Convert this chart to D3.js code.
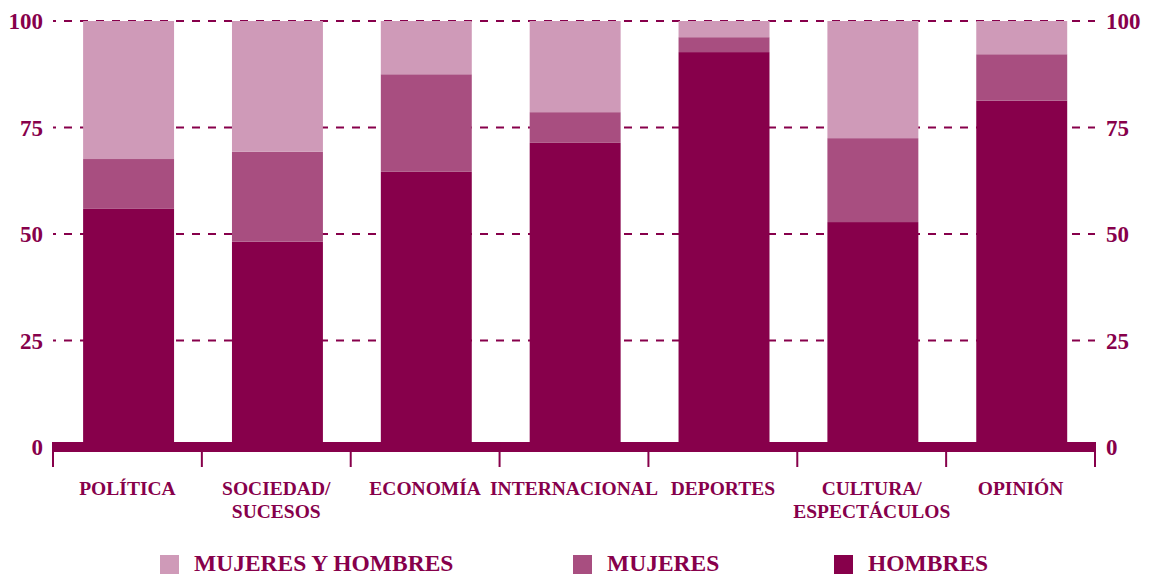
<!DOCTYPE html>
<html><head><meta charset="utf-8">
<script src="https://cdn.jsdelivr.net/npm/d3@7"></script>
<style>
html,body{margin:0;padding:0;background:#fff;}
svg{display:block;font-family:"Liberation Serif","Times New Roman",serif;font-weight:bold;}
</style></head>
<body><svg id="c" width="1149" height="575"></svg>
<script>
const categories = [["POLÍTICA"],["SOCIEDAD/","SUCESOS"],["ECONOMÍA"],["INTERNACIONAL"],["DEPORTES"],["CULTURA/","ESPECTÁCULOS"],["OPINIÓN"]];
const hombres = [55.9, 48.2, 64.6, 71.4, 92.7, 52.8, 81.3];
const mujeres = [11.7, 21.1, 22.9, 7.2, 3.5, 19.7, 10.9];
const mujeresYHombres = [32.4, 30.7, 12.5, 21.4, 3.8, 27.5, 7.8];
const yTicks = [0, 25, 50, 75, 100];
const seriesNames = ["HOMBRES", "MUJERES", "MUJERES Y HOMBRES"];
const colors = ["#87004b", "#a84e80", "#cf9ab8"];
const textColor = "#87004b";

const svg = d3.select("#c");
const left = 53, right = 1095;
const x = d3.scaleBand().domain(d3.range(categories.length)).range([left, right])
  .paddingInner(0.389).paddingOuter(0.1945).align(0.52);
const y = d3.scaleLinear().domain([0, 100]).range([447, 21]);

// gridlines
svg.append("g").selectAll("line").data(yTicks.filter(d => d > 0)).join("line")
  .attr("x1", left).attr("x2", right)
  .attr("y1", d => y(d)).attr("y2", d => y(d))
  .attr("stroke", textColor).attr("stroke-width", 2)
  .attr("stroke-dasharray", "8,8").attr("stroke-dashoffset", 5);

// stacked bars
const rows = categories.map((c, i) => ({i, h: hombres[i], m: mujeres[i], mh: mujeresYHombres[i]}));
const stack = d3.stack().keys(["h", "m", "mh"])(rows);
svg.append("g").selectAll("g").data(stack).join("g")
  .attr("fill", (d, k) => colors[k])
  .selectAll("rect").data(d => d).join("rect")
  .attr("x", d => x(d.data.i)).attr("width", x.bandwidth())
  .attr("y", d => y(Math.min(d[1], 100))).attr("height", d => y(d[0]) - y(Math.min(d[1], 100)));

// baseline
svg.append("rect").attr("x", left).attr("width", right - left)
  .attr("y", y(0) - 5).attr("height", 10).attr("fill", textColor);

// category separator ticks
const step = x.step();
svg.append("g").selectAll("line").data(d3.range(categories.length + 1)).join("line")
  .attr("x1", i => left + i * step).attr("x2", i => left + i * step)
  .attr("y1", y(0) - 5).attr("y2", 467)
  .attr("stroke", textColor).attr("stroke-width", 2);

// y labels
const yl = svg.append("g").attr("fill", textColor).style("font-size", "23px");
yl.selectAll("text.l").data(yTicks).join("text").attr("class", "l")
  .attr("x", 43).attr("y", d => y(d)).attr("dy", "0.35em").attr("text-anchor", "end").text(d => d);
yl.selectAll("text.r").data(yTicks).join("text").attr("class", "r")
  .attr("x", 1106).attr("y", d => y(d)).attr("dy", "0.35em").attr("text-anchor", "start").text(d => d);

// category labels
const cl = svg.append("g").attr("fill", textColor).style("font-size", "19.5px");
categories.forEach((lines, i) => {
  const cx = left + (i + 0.5) * step;
  const t = cl.append("text").attr("text-anchor", "middle").attr("x", cx).attr("y", 495);
  lines.forEach((ln, j) => t.append("tspan").attr("x", cx).attr("y", 495 + j * 23).text(ln));
});

// legend
const legendItems = [
  {name: seriesNames[2], color: colors[2], sx: 160, tx: 194},
  {name: seriesNames[1], color: colors[1], sx: 573, tx: 607},
  {name: seriesNames[0], color: colors[0], sx: 834, tx: 868}
];
const lg = svg.append("g");
lg.selectAll("rect").data(legendItems).join("rect")
  .attr("x", d => d.sx).attr("y", 555).attr("width", 19).attr("height", 19).attr("fill", d => d.color);
lg.selectAll("text").data(legendItems).join("text")
  .attr("x", d => d.tx).attr("y", 571).attr("fill", textColor).style("font-size", "23.5px").text(d => d.name);
</script></body></html>
